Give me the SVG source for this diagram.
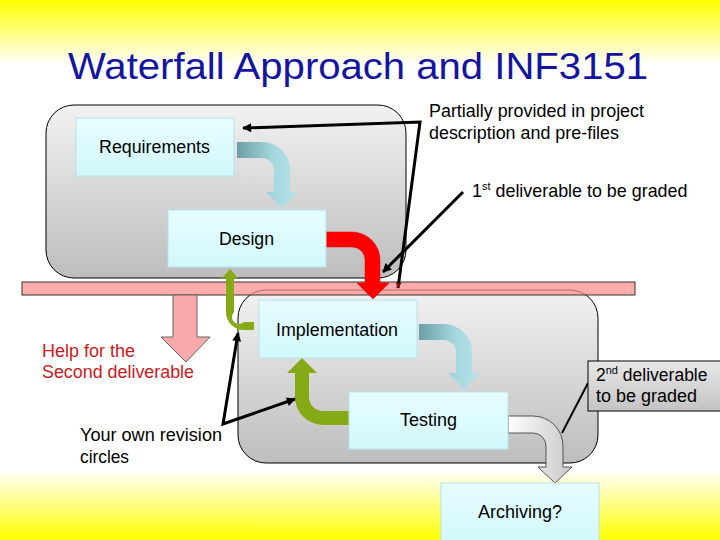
<svg xmlns="http://www.w3.org/2000/svg" width="720" height="540" viewBox="0 0 720 540">
<defs>
<linearGradient id="bg" x1="0" y1="0" x2="0" y2="1">
<stop offset="0" stop-color="#ffff00"/>
<stop offset="0.12" stop-color="#ffffff"/>
<stop offset="0.87" stop-color="#ffffff"/>
<stop offset="1" stop-color="#ffff00"/>
</linearGradient>
<linearGradient id="phase" x1="0" y1="0" x2="0" y2="1">
<stop offset="0" stop-color="#f2f2f2"/>
<stop offset="1" stop-color="#bdbdbd"/>
</linearGradient>
<linearGradient id="boxg" x1="0" y1="0" x2="0" y2="1">
<stop offset="0" stop-color="#e6fdff"/>
<stop offset="1" stop-color="#d2f8fc"/>
</linearGradient>
<linearGradient id="cyan" x1="0" y1="0" x2="1" y2="0">
<stop offset="0" stop-color="#6b9ea5"/>
<stop offset="0.6" stop-color="#a6d8df"/>
<stop offset="1" stop-color="#b5e3ea"/>
</linearGradient>
<linearGradient id="grayarr" x1="0" y1="0" x2="1" y2="0">
<stop offset="0" stop-color="#ffffff"/>
<stop offset="1" stop-color="#c8c8c8"/>
</linearGradient>
<linearGradient id="callout" x1="0" y1="0" x2="0" y2="1">
<stop offset="0" stop-color="#e8e8e8"/>
<stop offset="1" stop-color="#c4c4c4"/>
</linearGradient>
<marker id="arr" viewBox="0 0 10 10" refX="9" refY="5" markerUnits="userSpaceOnUse" markerWidth="11" markerHeight="9" orient="auto-start-reverse">
<path d="M0,0 L10,5 L0,10 Z" fill="#000"/>
</marker>
<marker id="tiny" viewBox="0 0 10 10" refX="9" refY="5" markerUnits="userSpaceOnUse" markerWidth="6" markerHeight="7" orient="auto-start-reverse">
<path d="M0,0 L10,5 L0,10 Z" fill="#8a1010"/>
</marker>
<style>
.lbl{font-family:"Liberation Sans",Arial,sans-serif;font-size:17.5px;fill:#000}
.box{fill:url(#boxg);stroke:#b8e2ea;stroke-width:1}
.phase{fill:url(#phase);stroke:#000;stroke-width:1}
.call{fill:none;stroke:#000;stroke-width:3}
</style>
</defs>
<rect x="0" y="0" width="720" height="540" fill="url(#bg)"/>
<text x="68" y="79" font-family="'Liberation Sans',Arial,sans-serif" font-size="37" fill="#1414a0" textLength="580" lengthAdjust="spacingAndGlyphs">Waterfall Approach and INF3151</text>

<g id="phase-upper"><rect class="phase" x="46" y="105" width="360" height="173" rx="28"/></g>
<g id="phase-lower"><rect class="phase" x="238" y="290" width="360" height="173" rx="28"/></g>
<g id="deliverable-bar"><rect x="22" y="282" width="613" height="13" fill="#ff8c8c" fill-opacity="0.72" stroke="#333" stroke-width="1"/></g>

<g id="connectors">
<path d="M237,142 H262 A28,28 0 0 1 290,170 V192 H298 L282,208 L266,192 H274 V170 A12,12 0 0 0 262,158 H237 Z" fill="url(#cyan)"/>
<path d="M326,232 H352 A28,28 0 0 1 380,260 V283 H389 L373,299 L357,283 H365 V260 A13,13 0 0 0 352,247 H326 Z" fill="#ff0000" stroke="#e00000" stroke-width="0.5"/>
<path d="M254,322 H244 A7,7 0 0 1 234,312 V278 H238 L230,269 L222,278 H226 V312 A18,18 0 0 0 244,330 H254 Z" fill="#86aa16"/>
<path d="M419,324 H444 A28,28 0 0 1 472,352 V373 H480 L464,389 L448,373 H456 V352 A12,12 0 0 0 444,340 H419 Z" fill="url(#cyan)"/>
<path d="M349,411 H323 A14,14 0 0 1 309,397 V373 H317 L302,358 L287,373 H295 V397 A28,28 0 0 0 323,425 H349 Z" fill="#86aa16"/>
<path d="M508,416 H533 A30,30 0 0 1 563,446 V467 H572 L555,483 L538,467 H546 V446 A13,13 0 0 0 533,433 H508 Z" fill="url(#grayarr)" stroke="#555" stroke-width="1"/>
<path d="M173,295 V337 H161 L186,362 L210,337 H197 V295 Z" fill="#f9a9a9" stroke="#666" stroke-width="1"/>
<path class="call" d="M398,288 L420,122 L243,128" marker-start="url(#tiny)" marker-end="url(#arr)"/>
<path class="call" d="M463,192 L383,272" marker-end="url(#arr)"/>
<path class="call" d="M238,333 L223,424 L295,399" marker-start="url(#arr)" marker-end="url(#arr)"/>
<path d="M588,383 L562,433" fill="none" stroke="#000" stroke-width="2"/>
</g>

<g id="requirements"><rect class="box" x="76" y="118" width="158" height="58"/><text class="lbl" x="99" y="153" textLength="111" lengthAdjust="spacingAndGlyphs">Requirements</text></g>
<g id="design"><rect class="box" x="168" y="210" width="158" height="57"/><text class="lbl" x="219" y="245" textLength="55" lengthAdjust="spacingAndGlyphs">Design</text></g>
<g id="implementation"><rect class="box" x="259" y="300" width="158" height="58"/><text class="lbl" x="276" y="336" textLength="122" lengthAdjust="spacingAndGlyphs">Implementation</text></g>
<g id="testing"><rect class="box" x="349" y="392" width="159" height="57"/><text class="lbl" x="400" y="426" textLength="57" lengthAdjust="spacingAndGlyphs">Testing</text></g>
<g id="archiving"><rect class="box" x="441" y="483" width="158" height="62"/><text class="lbl" x="478" y="518" textLength="84" lengthAdjust="spacingAndGlyphs">Archiving?</text></g>

<g id="note-partially">
<text class="lbl" x="429" y="117" textLength="215" lengthAdjust="spacingAndGlyphs">Partially provided in project</text>
<text class="lbl" x="429" y="139" textLength="190" lengthAdjust="spacingAndGlyphs">description and pre-files</text>
</g>
<g id="note-first">
<text class="lbl" x="472" y="197" style="font-size:17.9px">1<tspan font-size="11" dy="-7">st</tspan><tspan dy="7"> deliverable to be graded</tspan></text>
</g>
<g id="note-help">
<text class="lbl" x="42" y="357" style="fill:#cc1a1a" textLength="93" lengthAdjust="spacingAndGlyphs">Help for the</text>
<text class="lbl" x="42" y="378" style="fill:#cc1a1a" textLength="152" lengthAdjust="spacingAndGlyphs">Second deliverable</text>
</g>
<g id="note-revision">
<text class="lbl" x="80" y="441" textLength="142" lengthAdjust="spacingAndGlyphs">Your own revision</text>
<text class="lbl" x="80" y="463" textLength="49" lengthAdjust="spacingAndGlyphs">circles</text>
</g>
<g id="note-second">
<rect x="588" y="361" width="134" height="50" fill="url(#callout)" stroke="#000" stroke-width="1"/>
<text class="lbl" x="596" y="381">2<tspan font-size="11" dy="-7">nd</tspan><tspan dy="7"> deliverable</tspan></text>
<text class="lbl" x="596" y="402" textLength="101" lengthAdjust="spacingAndGlyphs">to be graded</text>
</g>
</svg>
